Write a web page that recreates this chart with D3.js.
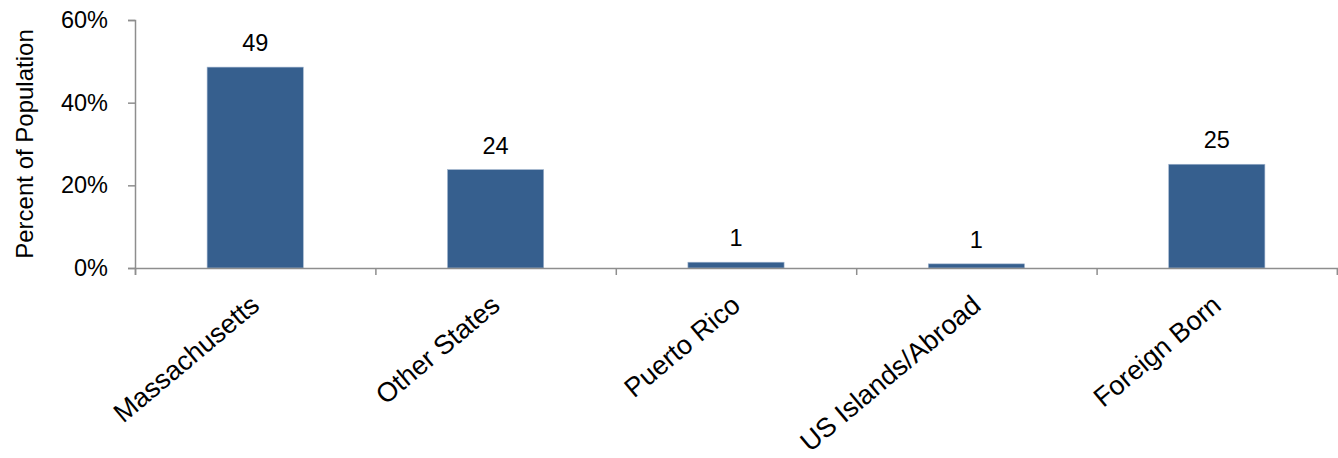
<!DOCTYPE html>
<html><head><meta charset="utf-8">
<script src="https://cdn.jsdelivr.net/npm/d3@7"></script>
<style>
html,body{margin:0;padding:0;background:#fff;}
text{font-family:"Liberation Sans",Arial,Helvetica,sans-serif;fill:#000;}
</style></head>
<body><svg id="chart" width="1338" height="458"></svg>
<script>
const categories = ["Massachusetts","Other States","Puerto Rico","US Islands/Abroad","Foreign Born"];
const values = [48.6, 23.8, 1.4, 1.0, 25.1];
const yTicks = [0, 20, 40, 60];
const yTitle = "Percent of Population";

const svg = d3.select("#chart");
const mLeft = 135, mRight = 1337, mTop = 20, mBottom = 268;
const x = d3.scaleBand().domain(categories).range([mLeft, mRight]).paddingInner(0.6).paddingOuter(0.3);
const xb = d3.scaleLinear().domain([0, categories.length]).range([mLeft, mRight]);
const y = d3.scaleLinear().domain([0, 60]).range([mBottom, mTop]);
const axisColor = "#8e8e8e";

// bars
svg.selectAll("rect.bar").data(values).join("rect")
  .attr("class","bar")
  .attr("x",(d,i)=>x(categories[i]))
  .attr("width",x.bandwidth())
  .attr("y",d=>y(d))
  .attr("height",d=>y(0)-y(d))
  .attr("fill","#365f8e")
  .attr("stroke","#9fb3cc").attr("stroke-width",0.6);

// value labels
svg.selectAll("text.val").data(values).join("text")
  .attr("class","val")
  .attr("x",(d,i)=>x(categories[i])+x.bandwidth()/2)
  .attr("y",d=>y(d)-16)
  .attr("text-anchor","middle")
  .style("font-size","23.5px")
  .text(d=>Math.round(d));

// y axis
const yAxis = svg.append("g").attr("transform",`translate(${mLeft},0)`)
  .call(d3.axisLeft(y).tickValues(yTicks).tickFormat(d=>d+"%").tickSize(7).tickPadding(20));
yAxis.select(".domain").attr("stroke",axisColor).attr("stroke-width",1.5);
yAxis.selectAll(".tick line").attr("stroke",axisColor).attr("stroke-width",1.5);
yAxis.selectAll(".tick text").style("font-size","23.5px").attr("fill","#000");

// x axis
const xAxis = svg.append("g").attr("transform",`translate(0,${mBottom})`)
  .call(d3.axisBottom(xb).tickValues(d3.range(categories.length+1)).tickSize(7).tickFormat(""));
xAxis.select(".domain").attr("stroke",axisColor).attr("stroke-width",1.5);
xAxis.selectAll(".tick line").attr("stroke",axisColor).attr("stroke-width",1.5);

// x labels
svg.selectAll("text.xl").data(categories).join("text")
  .attr("class","xl")
  .attr("text-anchor","end")
  .attr("transform",d=>`translate(${x(d)+x.bandwidth()/2+6},308) rotate(-40)`)
  .style("font-size","27px")
  .text(d=>d);

// y title
svg.append("text")
  .attr("transform","translate(33,144) rotate(-90)")
  .attr("text-anchor","middle")
  .style("font-size","24px")
  .text(yTitle);
</script></body></html>
